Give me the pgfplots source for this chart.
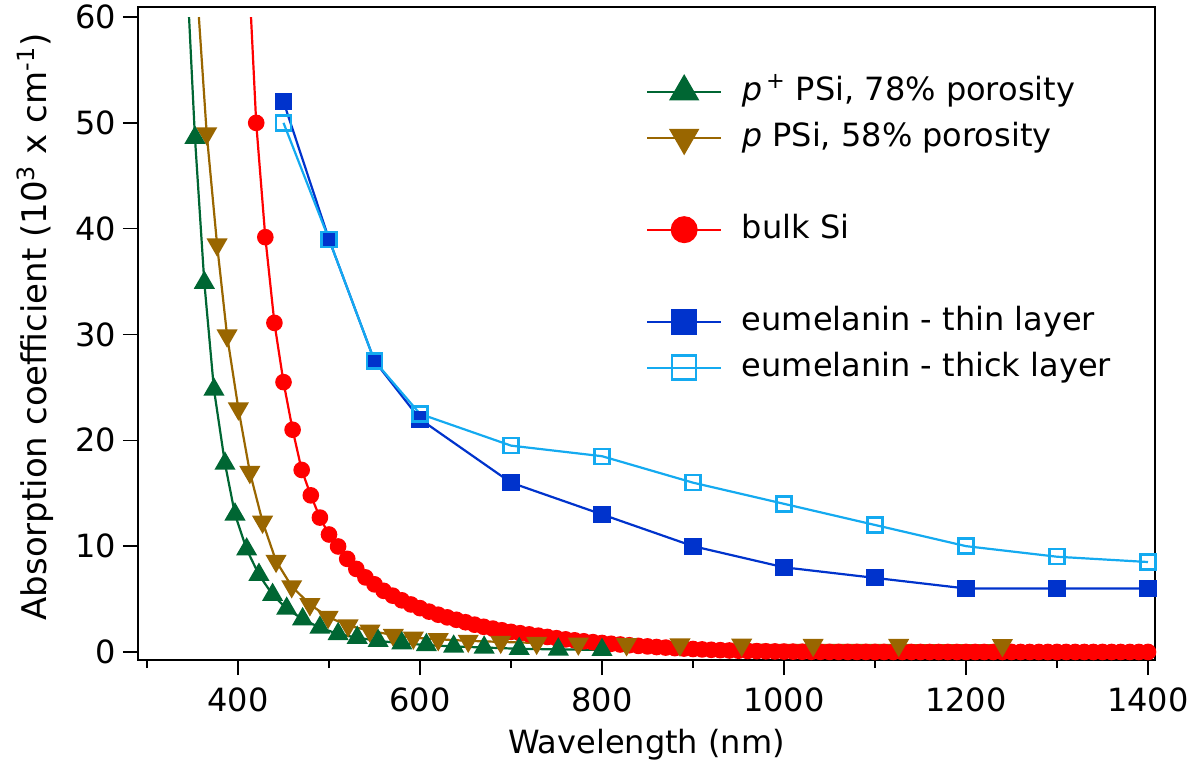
\documentclass[border=0pt]{standalone}
\usepackage{pgfplots}
\pgfplotsset{compat=1.18}
\usepackage{fontspec}
\setmainfont{DejaVu Sans}
\definecolor{cgreen}{RGB}{0,102,51}
\definecolor{cbrown}{RGB}{153,102,0}
\definecolor{cred}{RGB}{255,0,0}
\definecolor{cblue}{RGB}{0,51,204}
\definecolor{clblue}{RGB}{20,170,240}
\begin{document}
\begin{tikzpicture}
\useasboundingbox (-69pt,-56.5pt) rectangle (531pt,330pt);
\begin{axis}[
  at={(0pt,0pt)}, anchor=south west,
  width=508.5pt, height=326.5pt, scale only axis,
  xmin=290.1, xmax=1407.7, ymin=-0.76, ymax=60.95,
  xtick={400,600,...,1400}, minor xtick={300,500,...,1300},
  ytick={0,10,...,60},
  xtick pos=bottom, ytick pos=left,
  tick align=outside,
  major tick length=7.5pt, minor tick length=4pt,
  axis line style={line width=0.8pt},
  tick style={line width=0.8pt, black},
  ticklabel style={font=\fontsize{16}{19}\selectfont},
  xticklabel style={yshift=-3pt},
  /pgf/number format/assume math mode=true,
  /pgf/number format/1000 sep={},
  xlabel={Wavelength (nm)},
  ylabel={Absorption coefficient (10\textsuperscript{3} x cm\textsuperscript{-1})},
  xlabel style={font=\fontsize{16}{19}\selectfont, at={(axis description cs:0.5,-0.130)}, anchor=center},
  ylabel style={font=\fontsize{17}{20}\selectfont, at={(axis description cs:-0.101,0.51)}, anchor=center},
  legend image code/.code={\draw[mark repeat=2,mark phase=2,#1] plot coordinates {(0pt,0pt)(18.35pt,0pt)(36.7pt,0pt)};},
  legend cell align=left,
  legend style={at={(axis description cs:0.4995,0.897)}, anchor=north west, draw=none, fill=none,
    inner sep=0pt, row sep=6pt,
    nodes={inner sep=0pt, text height=13pt, text depth=4pt, font=\fontsize{16}{19}\selectfont},
    /tikz/every odd column/.append style={column sep=10pt}},
]
% bulk Si
\addplot[forget plot, cred, line width=1.1pt] coordinates {(414.3,60)(420,50)};
\addplot[forget plot, cred, line width=1.1pt, mark=*, mark size=3.6pt, mark options={fill=cred, draw=cred}] coordinates {
(420,50.0)(430,39.2)(440,31.1)(450,25.5)(460,21.0)(470,17.2)(480,14.8)(490,12.7)(500,11.1)(510,9.97)
(520,8.80)(530,7.85)(540,7.05)(550,6.39)(560,5.78)(570,5.32)(580,4.88)(590,4.49)(600,4.14)(610,3.81)
(620,3.52)(630,3.27)(640,3.04)(650,2.81)(660,2.58)(670,2.38)(680,2.21)(690,2.05)(700,1.90)(710,1.77)
(720,1.66)(730,1.54)(740,1.42)(750,1.30)(760,1.19)(770,1.10)(780,1.01)(790,0.928)(800,0.850)(810,0.775)
(820,0.707)(830,0.638)(840,0.575)(850,0.527)(860,0.468)(870,0.414)(880,0.366)(890,0.322)(900,0.281)(910,0.240)
(920,0.204)(930,0.170)(940,0.142)(950,0.117)(960,0.096)(970,0.078)(980,0.062)(990,0.049)(1000,0.039)(1010,0.030)
(1020,0.022)(1030,0.016)(1040,0.011)(1050,0.008)(1060,0.006)(1070,0.005)(1080,0.004)(1090,0.003)(1100,0.002)(1110,0.0015)
(1120,0.001)(1130,0.0007)(1140,0.0004)(1150,0.0002)(1160,0.0001)(1170,0)(1180,0)(1190,0)(1200,0)(1210,0)
(1220,0)(1230,0)(1240,0)(1250,0)(1260,0)(1270,0)(1280,0)(1290,0)(1300,0)(1310,0)
(1320,0)(1330,0)(1340,0)(1350,0)(1360,0)(1370,0)(1380,0)(1390,0)(1400,0)};
% eumelanin thin
\addplot[forget plot, cblue, line width=1.1pt, mark=square*, mark size=3.75pt, mark options={fill=cblue, draw=cblue}] coordinates {
(450,52)(500,39)(550,27.5)(600,22)(700,16)(800,13)(900,10)(1000,8)(1100,7)(1200,6)(1300,6)(1400,6)};
% eumelanin thick
\addplot[forget plot, clblue, line width=1.1pt, mark=square, mark size=3.75pt, mark options={draw=clblue, line width=1.2pt}] coordinates {
(450,50)(500,39)(550,27.5)(600,22.5)(700,19.5)(800,18.5)(900,16)(1000,14)(1100,12)(1200,10)(1300,9)(1400,8.5)};
% p PSi
\addplot[forget plot, cbrown, line width=1.1pt] coordinates {(357,60)(365.6,49.0)};
\addplot[forget plot, cbrown, line width=1.1pt, mark=triangle*, mark size=5pt, mark options={rotate=180, fill=cbrown, draw=cbrown}] coordinates {
(365.6,49.0)(377,38.5)(388,29.9)(400.4,23.0)(413,17.0)(427,12.3)(441.8,8.6)(459,6.2)(479,4.5)(499,3.3)
(521,2.5)(545,2.0)(570.7,1.6)(592.7,1.35)(620,1.2)(653,1.05)(688.7,0.95)(728.2,0.85)(774,0.78)(827,0.72)
(885.7,0.7)(953.5,0.68)(1032,0.66)(1126,0.65)(1240,0.64)};
% p+ PSi
\addplot[forget plot, cgreen, line width=1.1pt] coordinates {(346.2,60)(352.7,48.6)};
\addplot[forget plot, cgreen, line width=1.1pt, mark=triangle*, mark size=5pt, mark options={fill=cgreen, draw=cgreen}] coordinates {
(352.7,48.6)(363,34.9)(373.6,24.8)(385.7,17.8)(396.7,13.0)(409.5,9.7)(423,7.3)(438,5.4)(453.5,4.1)(471,3.1)
(490,2.3)(510,1.7)(531,1.35)(554,1.05)(580,0.82)(607,0.66)(637,0.52)(670.5,0.42)(709,0.3)(752,0.24)(800,0.2)};
% legend
\addlegendimage{cgreen, line width=1.1pt, mark=triangle*, mark size=7.7pt, mark options={fill=cgreen, draw=cgreen}}
\addlegendentry{\textit{p}\textsuperscript{\,+} PSi, 78\% porosity}
\addlegendimage{cbrown, line width=1.1pt, mark=triangle*, mark size=7.7pt, mark options={rotate=180, fill=cbrown, draw=cbrown}}
\addlegendentry{\textit{p} PSi, 58\% porosity}
\addlegendimage{empty legend}
\addlegendentry{}
\addlegendimage{cred, line width=1.1pt, mark=*, mark size=6.2pt, mark options={fill=cred, draw=cred}}
\addlegendentry{bulk Si}
\addlegendimage{empty legend}
\addlegendentry{}
\addlegendimage{cblue, line width=1.1pt, mark=square*, mark size=6pt, mark options={fill=cblue, draw=cblue}}
\addlegendentry{eumelanin - thin layer}
\addlegendimage{clblue, line width=1.1pt, mark=square, mark size=6pt, mark options={draw=clblue, line width=1.2pt}}
\addlegendentry{eumelanin - thick layer}
\end{axis}
\end{tikzpicture}
\end{document}
